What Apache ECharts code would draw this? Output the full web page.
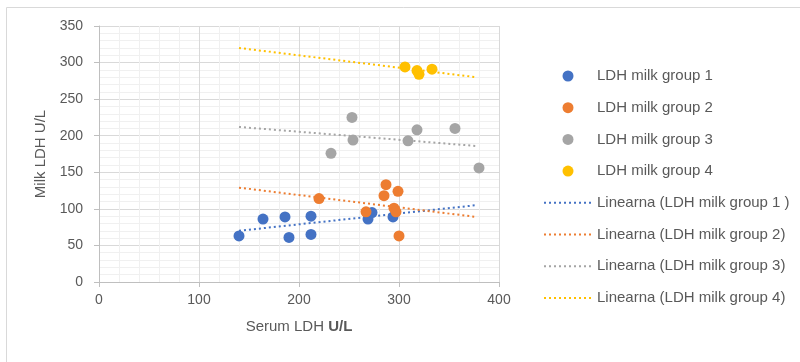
<!DOCTYPE html>
<html>
<head>
<meta charset="utf-8">
<script src="https://cdn.jsdelivr.net/npm/echarts@6/dist/echarts.min.js"></script>
<style>html,body{margin:0;padding:0;background:#fff;}#c{width:800px;height:362px;}</style>
</head>
<body>
<div id="c"></div>
<script>
// Scatter data
const g1x = [140, 164, 186, 190, 212, 212, 269, 273, 294];
const g1y = [63, 86, 89, 61, 90, 65, 86, 95, 89];
const g2x = [220, 267, 285, 287, 295, 297, 299, 300];
const g2y = [114, 96, 118, 133, 101, 96, 124, 63];
const g3x = [232, 253, 254, 309, 318, 356, 380];
const g3y = [176, 225, 194, 193, 208, 210, 156];
const g4x = [306, 318, 320, 333];
const g4y = [294, 289, 284, 291];
// Trendline endpoints
const trendX = [140, 377];
const t1y = [70, 105];
const t2y = [129, 89];
const t3y = [212, 186];
const t4y = [320, 280];

const names = ['LDH milk group 1', 'LDH milk group 2', 'LDH milk group 3', 'LDH milk group 4',
  'Linearna (LDH milk group 1 )', 'Linearna (LDH milk group 2)', 'Linearna (LDH milk group 3)', 'Linearna (LDH milk group 4)'];
const colors = ['#4472C4', '#ED7D31', '#A5A5A5', '#FFC000'];

const zip = (xs, ys) => xs.map((x, i) => [x, ys[i]]);
const groups = [[g1x, g1y], [g2x, g2y], [g3x, g3y], [g4x, g4y]];
const trends = [t1y, t2y, t3y, t4y];

const series = [];
groups.forEach((g, i) => {
  series.push({
    name: names[i], type: 'scatter', data: zip(g[0], g[1]), symbolSize: 11, z: 3,
    itemStyle: { color: colors[i], opacity: 1 }
  });
});
trends.forEach((t, i) => {
  series.push({
    name: names[4 + i], type: 'line', data: zip(trendX, t), symbol: 'none', z: 2,
    lineStyle: { color: colors[i], width: 2, type: [2, 3] }, itemStyle: { color: colors[i] }
  });
});

const legendData = names.map((n, i) => i < 4 ? { name: n } : { name: n, itemStyle: { opacity: 0 } });

const font = 'Liberation Sans';
const chart = echarts.init(document.getElementById('c'));
chart.setOption({
  animation: false,
  textStyle: { fontFamily: font },
  graphic: [{ type: 'rect', shape: { x: 6.5, y: 7.5, width: 900, height: 500 }, style: { fill: 'none', stroke: '#d9d9d9', lineWidth: 1 }, silent: true }],
  grid: { left: 99, right: 301, top: 26, bottom: 80 },
  legend: {
    orient: 'vertical', left: 538, top: 63, itemWidth: 48, itemHeight: 11, itemGap: 15.7,
    data: legendData,
    textStyle: { color: '#595959', fontSize: 15, fontFamily: font, lineHeight: 16 }
  },
  xAxis: {
    type: 'value', min: 0, max: 400, interval: 100,
    name: '{a|Serum LDH }{b|U/L}', nameLocation: 'middle', nameGap: 37,
    nameTextStyle: { rich: { a: { fontSize: 15, color: '#595959', fontFamily: font }, b: { fontSize: 15, color: '#595959', fontWeight: 'bold', fontFamily: font } } },
    axisLine: { show: true, lineStyle: { color: '#bfbfbf' } },
    axisTick: { show: true, length: 5, lineStyle: { color: '#bfbfbf' } },
    axisLabel: { color: '#595959', fontSize: 14, margin: 11 },
    splitLine: { show: true, lineStyle: { color: '#d9d9d9' } },
    minorTick: { show: false, splitNumber: 5 },
    minorSplitLine: { show: true, lineStyle: { color: '#f0f0f0' } }
  },
  yAxis: {
    type: 'value', min: 0, max: 350, interval: 50,
    name: 'Milk LDH U/L', nameLocation: 'middle', nameGap: 51,
    nameTextStyle: { fontSize: 15, color: '#595959' },
    axisLine: { show: true, lineStyle: { color: '#bfbfbf' } },
    axisTick: { show: true, length: 5, lineStyle: { color: '#bfbfbf' } },
    axisLabel: { color: '#595959', fontSize: 14, margin: 16 },
    splitLine: { show: true, lineStyle: { color: '#d9d9d9' } },
    minorTick: { show: false, splitNumber: 5 },
    minorSplitLine: { show: true, lineStyle: { color: '#f0f0f0' } }
  },
  series: series
});
</script>
</body>
</html>
